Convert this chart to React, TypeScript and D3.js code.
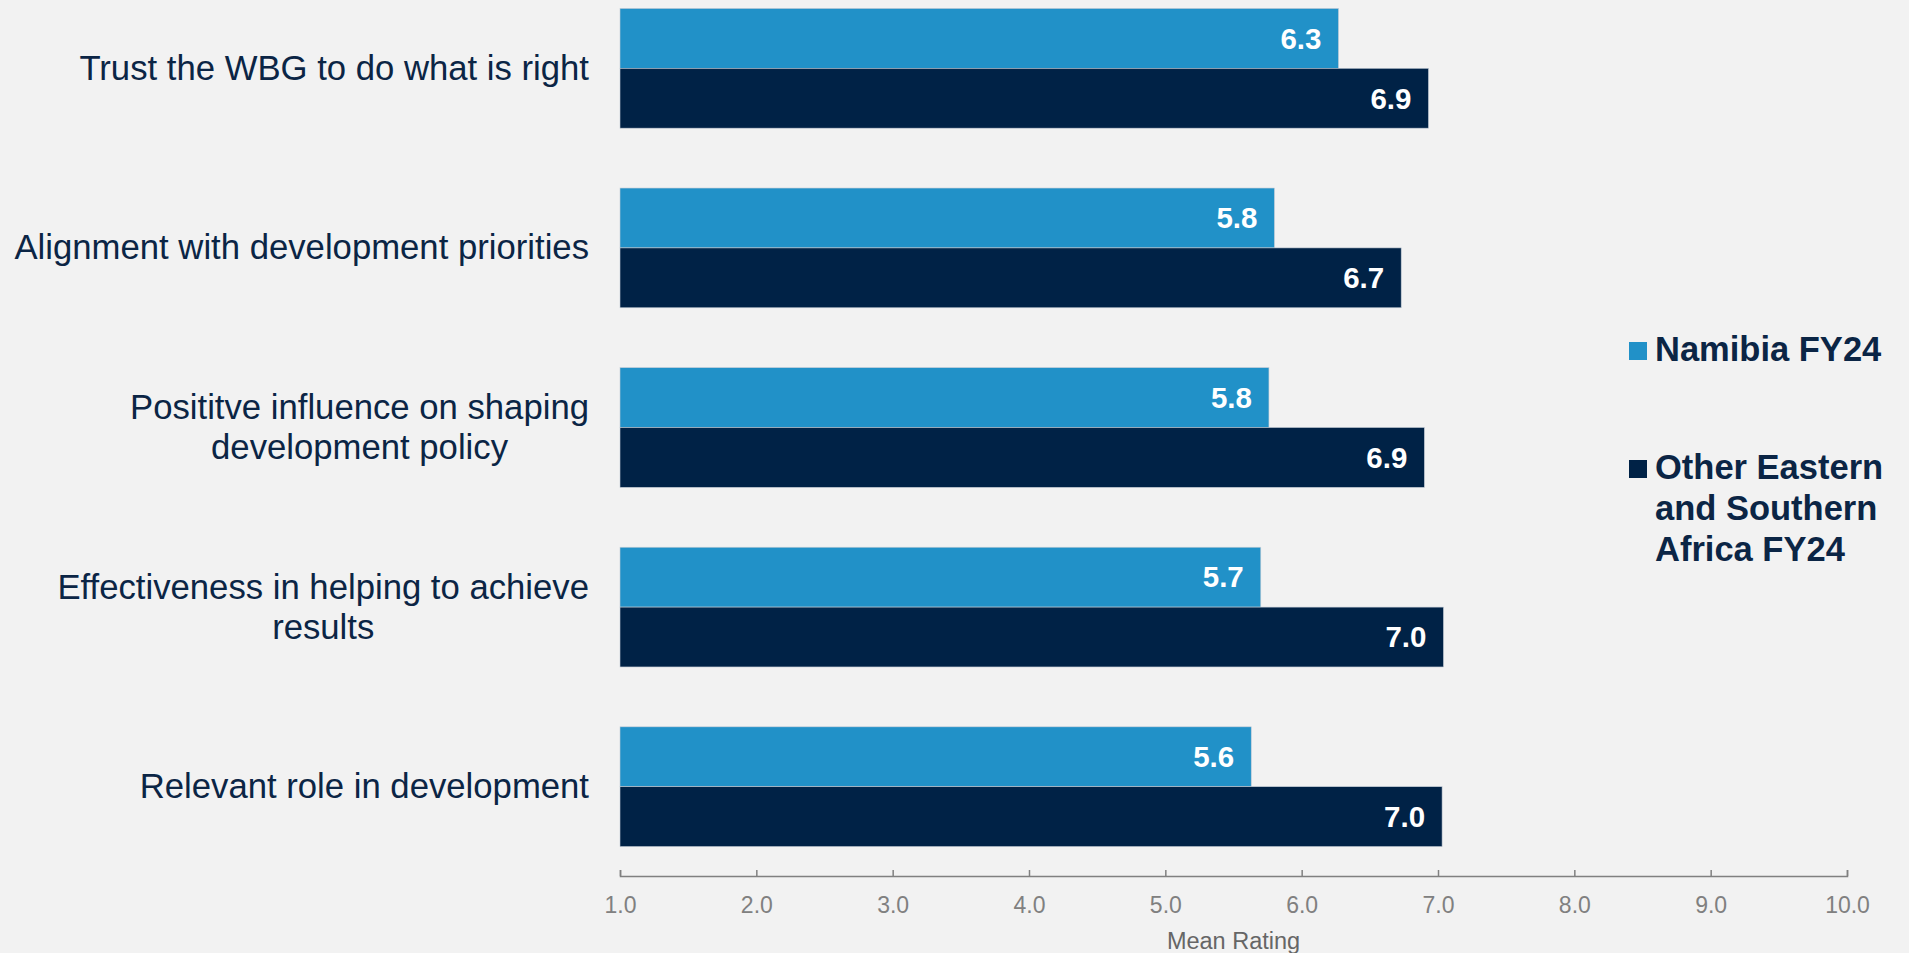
import { useEffect, useRef } from 'react';
import * as d3 from 'd3';

// Data
const categories = [
  'Trust the WBG to do what is right',
  'Alignment with development priorities',
  'Posititve influence on shaping\ndevelopment policy',
  'Effectiveness in helping to achieve\nresults',
  'Relevant role in development',
];
const seriesNames = ['Namibia FY24', 'Other Eastern\nand Southern\nAfrica FY24'];
const namibia = [6.27, 5.8, 5.76, 5.7, 5.63];
const otherESA = [6.93, 6.73, 6.9, 7.04, 7.03];
const xTicks = [1, 2, 3, 4, 5, 6, 7, 8, 9, 10];

const WIDTH = 1909;
const HEIGHT = 953;
const FONT = "'Liberation Sans', Arial, sans-serif";
const NAVY = '#002246';
const BLUE = '#2191c8';
const TEXT = '#0b2545';
const GREY = '#808080';

export default function App() {
  const svgRef = useRef<SVGSVGElement>(null);

  useEffect(() => {
    document.body.style.margin = '0';
    if (!svgRef.current) return;
    const svg = d3.select(svgRef.current);
    svg.selectAll('*').remove();

    svg.append('rect')
      .attr('width', WIDTH)
      .attr('height', HEIGHT)
      .attr('fill', '#f2f2f2');

    const x = d3.scaleLinear().domain([1, 10]).range([620, 1847]);
    const y = d3.scaleBand<string>()
      .domain(categories)
      .range([-21.5, 876.5])
      .paddingInner(1 / 3)
      .paddingOuter(1 / 6);
    const keys = ['namibia', 'other'];
    const sub = d3.scaleBand<string>().domain(keys).range([0, y.bandwidth()]);
    const colors = [BLUE, NAVY];
    const values = [namibia, otherESA];

    // Bars + value labels
    categories.forEach((cat, i) => {
      const g = svg.append('g').attr('transform', `translate(0,${y(cat)})`);
      keys.forEach((k, s) => {
        const v = values[s][i];
        g.append('rect')
          .attr('x', x(1))
          .attr('y', sub(k)!)
          .attr('width', x(v) - x(1))
          .attr('height', sub.bandwidth())
          .attr('fill', colors[s])
          .attr('stroke', '#c3ccd6')
          .attr('stroke-width', 0.6);

        g.append('text')
          .attr('x', x(v) - 17)
          .attr('y', sub(k)! + sub.bandwidth() / 2)
          .attr('dy', '0.35em')
          .attr('text-anchor', 'end')
          .attr('fill', '#ffffff')
          .attr('font-family', FONT)
          .attr('font-weight', 'bold')
          .attr('font-size', '29.5px')
          .text(v.toFixed(1));
      });

      // Category label, lines centred on each other, block right-aligned
      const lines = cat.split('\n');
      const cy = y(cat)! + y.bandwidth() / 2;
      const t = svg.append('text')
        .attr('font-family', FONT)
        .attr('font-size', '34.7px')
        .attr('fill', TEXT)
        .attr('text-anchor', 'middle');
      const spans = lines.map((ln, j) =>
        t.append('tspan')
          .attr('y', cy + (j - (lines.length - 1) / 2) * 40)
          .attr('dy', '0.33em')
          .text(ln)
      );
      const maxW = d3.max(spans, (sp) => (sp.node() as SVGTextContentElement).getComputedTextLength()) || 0;
      spans.forEach((sp) => sp.attr('x', 589 - maxW / 2));
    });

    // X axis
    const axis = d3.axisBottom(x)
      .tickValues(xTicks)
      .tickSize(-6)
      .tickPadding(21)
      .tickFormat((d) => (d as number).toFixed(1));
    const ax = svg.append('g').attr('transform', 'translate(0,876)').call(axis);
    ax.select('.domain').attr('stroke', GREY).attr('stroke-width', 1.5);
    ax.selectAll('.tick line').attr('stroke', GREY).attr('stroke-width', 1.5);
    ax.selectAll('.tick text')
      .attr('fill', GREY)
      .attr('font-family', FONT)
      .attr('font-size', '23px');

    svg.append('text')
      .attr('x', (x(1) + x(10)) / 2)
      .attr('y', 949)
      .attr('text-anchor', 'middle')
      .attr('fill', '#666666')
      .attr('font-family', FONT)
      .attr('font-size', '23.5px')
      .text('Mean Rating');

    // Legend
    const legendTop = [361, 479];
    seriesNames.forEach((name, s) => {
      svg.append('rect')
        .attr('x', 1629)
        .attr('y', legendTop[s] - 19)
        .attr('width', 18)
        .attr('height', 18)
        .attr('fill', colors[s]);
      const t = svg.append('text')
        .attr('font-family', FONT)
        .attr('font-weight', 'bold')
        .attr('font-size', '34.5px')
        .attr('fill', TEXT);
      name.split('\n').forEach((ln, j) => {
        t.append('tspan')
          .attr('x', 1655)
          .attr('y', legendTop[s] + j * 41)
          .text(ln);
      });
    });
  }, []);

  return (
    <svg
      ref={svgRef}
      width={WIDTH}
      height={HEIGHT}
      style={{ position: 'absolute', left: 0, top: 0, display: 'block' }}
    />
  );
}
